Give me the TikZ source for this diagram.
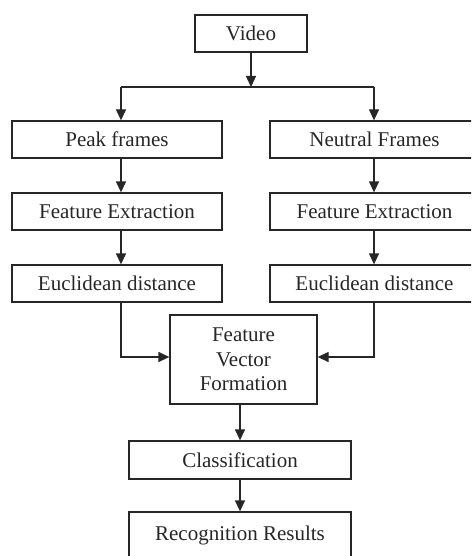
\documentclass[tikz,border=0pt]{standalone}
\usepackage{fontspec}
\setmainfont{Liberation Serif}
\usetikzlibrary{arrows.meta}
\begin{document}
\begin{tikzpicture}[x=1pt,y=-1pt,
  box/.style={draw=black!85, line width=1.3pt, inner sep=0pt, font=\fontsize{21}{24.5}\selectfont, align=center, text=black!85},
  arr/.style={draw=black!85, -{Triangle[length=11pt,width=10pt]}, line width=1.3pt},
  ln/.style={draw=black!85, line width=1.3pt}]
\useasboundingbox (0,0) rectangle (471,556);
\clip (0,0) rectangle (471,556);
\node[box, minimum width=112, minimum height=37] (video) at (251,33.5) {Video};
\node[box, minimum width=210, minimum height=37] (peak) at (117,139.5) {Peak frames};
\node[box, minimum width=209, minimum height=37] (neutral) at (374.5,139.5) {Neutral Frames};
\node[box, minimum width=210, minimum height=37] (fe1) at (117,211.5) {Feature Extraction};
\node[box, minimum width=209, minimum height=37] (fe2) at (374.5,211.5) {Feature Extraction};
\node[box, minimum width=210, minimum height=37] (ed1) at (117,283.5) {Euclidean distance};
\node[box, minimum width=209, minimum height=37] (ed2) at (374.5,283.5) {Euclidean distance};
\node[box, minimum width=147, minimum height=89] (fvf) at (243.5,359.5) {Feature\\Vector\\Formation};
\node[box, minimum width=222, minimum height=38] (cls) at (240,460) {Classification};
\node[box, minimum width=222, minimum height=46] (rec) at (240,535) {Recognition Results};
\coordinate (j) at (251,87);
\coordinate (jl) at (121,87);
\coordinate (jr) at (374,87);
\coordinate (m) at (243.5,357);
\draw[arr] (video.south) -- (j);
\draw[ln] (jl) -- (jr);
\draw[arr] (jl) -- (jl |- peak.north);
\draw[arr] (jr) -- (jr |- neutral.north);
\draw[arr] (jl |- peak.south) -- (jl |- fe1.north);
\draw[arr] (jr |- neutral.south) -- (jr |- fe2.north);
\draw[arr] (jl |- fe1.south) -- (jl |- ed1.north);
\draw[arr] (jr |- fe2.south) -- (jr |- ed2.north);
\draw[arr] (jl |- ed1.south) |- (fvf.west |- m);
\draw[arr] (jr |- ed2.south) |- (fvf.east |- m);
\draw[arr] (cls.north |- fvf.south) -- (cls.north);
\draw[arr] (cls.south) -- (rec.north);
\end{tikzpicture}
\end{document}
